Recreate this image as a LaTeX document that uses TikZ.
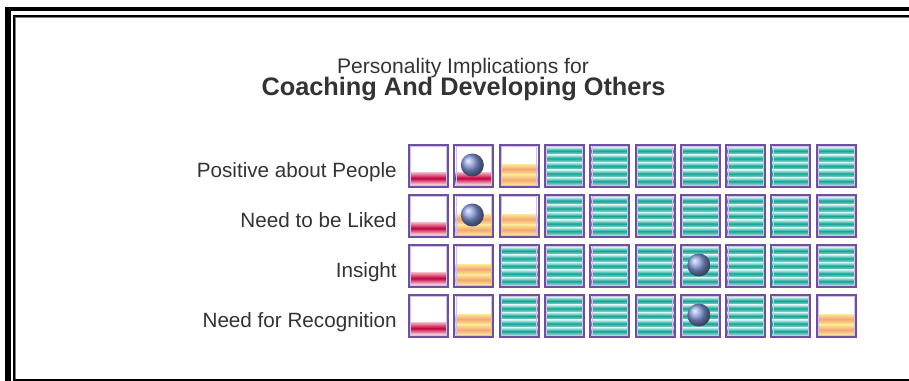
\documentclass[tikz,border=0pt]{standalone}
\usepackage{fontspec}
\setmainfont{Liberation Sans}
\definecolor{cellpurple}{HTML}{6F4FA0}
\definecolor{celllilac}{HTML}{CFC2E6}
\definecolor{crimson}{HTML}{C4003E}
\definecolor{pinkish}{HTML}{F7B9C6}
\definecolor{amber}{HTML}{F4A674}
\definecolor{paleyellow}{HTML}{FDE993}
\definecolor{stripeteal}{HTML}{0FA394}
\definecolor{stripelight}{HTML}{D2F4F0}
\definecolor{ballblue}{HTML}{8397DA}
\definecolor{textgray}{HTML}{333333}

\begin{document}
\begin{tikzpicture}[x=.75pt,y=-.75pt,
		label text/.style={font=\fontsize{15.5}{18}\selectfont, text=textgray, inner sep=0},
		title text/.style={font=\fontsize{15.8}{19}\selectfont, text=textgray, inner sep=0},
		subject text/.style={font=\bfseries\fontsize{19}{23}\selectfont, text=textgray, inner sep=0},
		cellbox/.style={draw=cellpurple, line width=1.5pt},
		cellinner/.style={draw=celllilac, line width=.6pt}]
	\useasboundingbox (0,0) rectangle (909,381);
	\fill [black] (5,7) rectangle (11,381);
	\fill [black] (5,7) rectangle (909,11);
	\draw [line width=1.5pt] (14,381) -- (14,16) -- (909,16);
	\draw [gray, line width=.6pt] (15.8,381) -- (15.8,17.8) -- (909,17.8);
	\draw [line width=1.5pt] (14,380) -- (909,380);

	\node [title text, anchor=base] (heading) at (463,73.3) {Personality Implications for};
	\node [subject text, anchor=base] (subject) at (463.5,95.7) {Coaching And Developing Others};
	\foreach \r/\txt in {1/Positive about People, 2/Need to be Liked, 3/Insight, 4/Need for Recognition} {
		\node [label text, anchor=base east] (lbl\r) at (397,{145+(\r-1)*50+32.5}) {\txt};
	}

	\foreach \c/\r in {1/1, 2/1, 1/2, 1/3, 1/4} {
		\pgfmathsetmacro\lx{409+(\c-1)*45.3}
		\pgfmathsetmacro\ty{145+(\r-1)*50}
		\shade [top color=pinkish, bottom color=pinkish!60, middle color=crimson] (\lx,\ty+27) rectangle (\lx+39,\ty+39.5);
	}
	\foreach \c/\r in {3/1, 2/2, 3/2, 2/3, 2/4, 10/4} {
		\pgfmathsetmacro\lx{409+(\c-1)*45.3}
		\pgfmathsetmacro\ty{145+(\r-1)*50}
		\foreach \k in {0, 1} {
			\shade [top color=paleyellow, bottom color=paleyellow, middle color=amber] (\lx,\ty+19+\k*10.5) rectangle (\lx+39,\ty+29.5+\k*10.5);
		}
	}
	\foreach \r/\first/\last in {1/4/10, 2/4/10, 3/3/10, 4/3/9} {
		\foreach \c in {\first,...,\last} {
			\pgfmathsetmacro\lx{409+(\c-1)*45.3}
			\pgfmathsetmacro\ty{145+(\r-1)*50}
			\foreach \k in {0,...,4} {
				\shade [top color=stripelight, bottom color=stripelight!70!stripeteal, middle color=stripeteal] (\lx,\ty+2+\k*7.6) rectangle (\lx+39,\ty+9.6+\k*7.6);
			}
		}
	}
	\foreach \r in {1,...,4} {
		\foreach \c in {1,...,10} {
			\pgfmathsetmacro\lx{409+(\c-1)*45.3}
			\pgfmathsetmacro\ty{145+(\r-1)*50}
			\draw [cellinner] (\lx+1.8,\ty+1.8) rectangle (\lx+37.2,\ty+40.2);
			\draw [cellbox] (\lx,\ty) rectangle (\lx+39,\ty+42);
		}
	}
	\foreach \c/\r in {2/1, 2/2, 7/3, 7/4} {
		\pgfmathsetmacro\lx{409+(\c-1)*45.3}
		\pgfmathsetmacro\ty{145+(\r-1)*50}
		\shade [ball color=ballblue] (\lx+18,\ty+20) circle (11.5);
	}
\end{tikzpicture}
\end{document}
